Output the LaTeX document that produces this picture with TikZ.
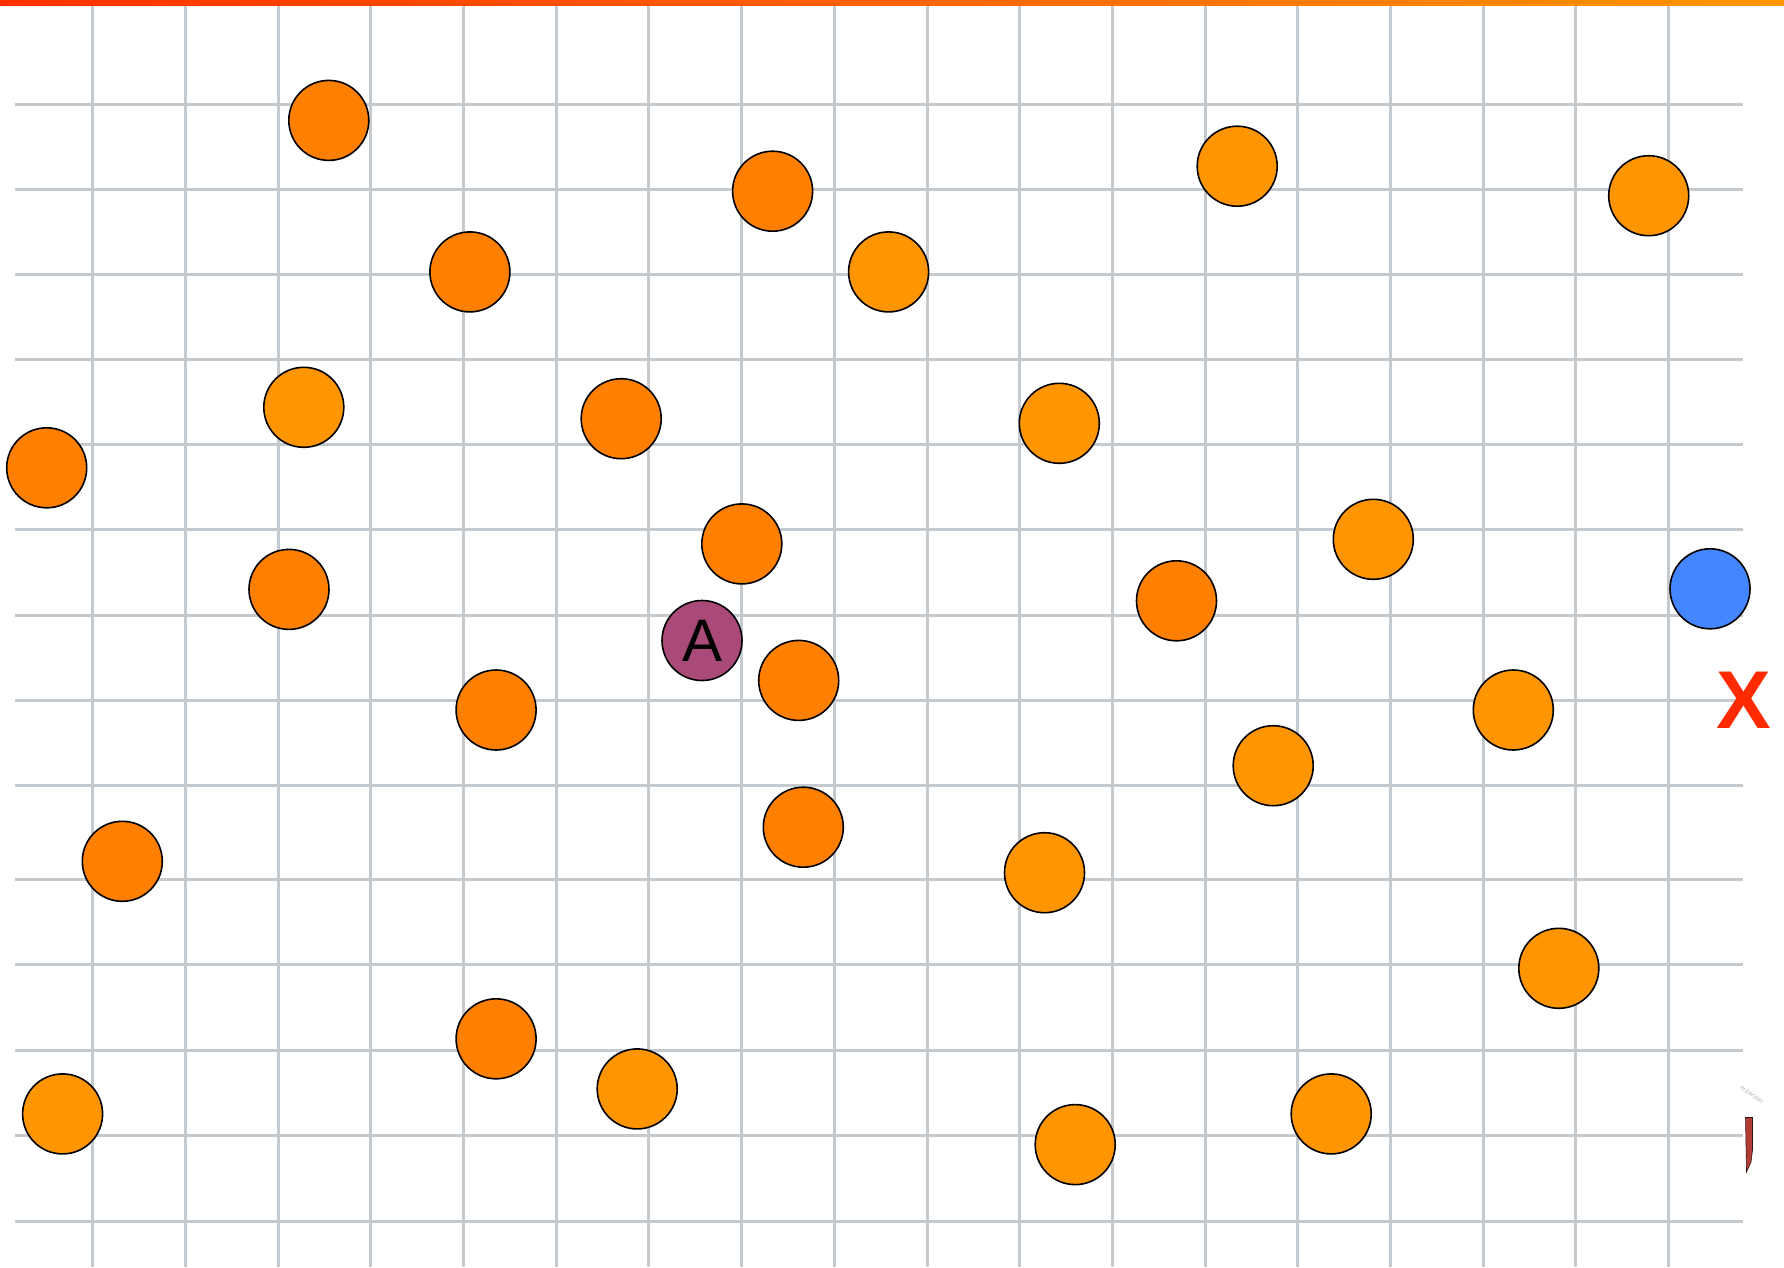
\documentclass[tikz,border=0pt]{standalone}
\usepackage{fontspec}
\newfontfamily\helv{Liberation Sans}
\definecolor{gridc}{RGB}{196,202,206}
\definecolor{orgA}{RGB}{255,128,0}
\definecolor{orgB}{RGB}{255,149,0}
\definecolor{blueC}{RGB}{68,134,255}
\definecolor{plumC}{RGB}{170,74,120}
\definecolor{xred}{RGB}{255,42,0}
\definecolor{barL}{RGB}{255,48,0}
\definecolor{barR}{RGB}{255,150,0}
\definecolor{artred}{RGB}{180,60,55}
\begin{document}
\begin{tikzpicture}[x=1pt,y=-1pt,
  gridline/.style={draw=gridc,line width=3pt},
  dot/.style={circle,draw=black,line width=1.6pt,minimum size=80pt,inner sep=0pt},
  dotA/.style={dot,fill=orgA},
  dotB/.style={dot,fill=orgB}]
\useasboundingbox (0,0) rectangle (1784,1267);
\fill[white] (0,0) rectangle (1784,1267);
% grid
\foreach \k in {1,...,18} {
  \draw[gridline] (92.7*\k,5) -- (92.7*\k,1267);
}
\foreach \yy in {104,189.3,274.6,359.9,444.5,529.8,615,700.2,785,879.3,964.6,1050,1135.5,1221.5} {
  \draw[gridline] (15,\yy) -- (1743,\yy);
}
% top bar
\shade[left color=barL,right color=barR] (0,0) rectangle (1784,5);
% darker orange dots
\node[dotA] (c1) at (328.8,120.4) {};
\node[dotA] (c2) at (772.6,191.2) {};
\node[dotA] (c3) at (469.9,271.9) {};
\node[dotA] (c4) at (621.2,418.7) {};
\node[dotA] (c5) at (46.7,467.8) {};
\node[dotA] (c6) at (741.8,543.9) {};
\node[dotA] (c7) at (289,589.4) {};
\node[dotA] (c8) at (1176.5,600.8) {};
\node[dotA] (c9) at (798.7,680.4) {};
\node[dotA] (c10) at (496.1,710) {};
\node[dotA] (c11) at (803.3,827.2) {};
\node[dotA] (c12) at (122.3,861.3) {};
\node[dotA] (c13) at (496.1,1038.8) {};
% lighter orange dots
\node[dotB] (c14) at (1237.2,166.2) {};
\node[dotB] (c15) at (1648.7,195.7) {};
\node[dotB] (c16) at (888.6,271.9) {};
\node[dotB] (c17) at (303.8,407.3) {};
\node[dotB] (c18) at (1059.3,423.3) {};
\node[dotB] (c19) at (1373.3,539.3) {};
\node[dotB] (c20) at (1513.3,710) {};
\node[dotB] (c21) at (1273.2,765.7) {};
\node[dotB] (c22) at (1044.5,872.7) {};
\node[dotB] (c23) at (1558.8,968.3) {};
\node[dotB] (c24) at (62.6,1113.9) {};
\node[dotB] (c25) at (637.2,1088.9) {};
\node[dotB] (c26) at (1075.2,1144.6) {};
\node[dotB] (c27) at (1331.2,1113.9) {};
% blue dot
\node[dot,fill=blueC] (blue) at (1710,588.8) {};
% A dot
\node[dot,fill=plumC,font=\helv\fontsize{60}{60}\selectfont] (A) at (702,640.5) {A};
% X marker
\node[text=xred,font=\helv\bfseries\fontsize{82}{82}\selectfont,inner sep=0pt] (X) at (1744,700.5) {X};
% small artifact bottom right
\fill[artred,draw=black!70!artred,line width=0.6pt] (1745.5,1117.5) -- (1752.5,1117.5) -- (1752.5,1150) -- (1751,1162) -- (1746.5,1172) -- cycle;
\node[text=gray!70,font=\helv\fontsize{5}{5}\selectfont,rotate=-35,inner sep=0pt] (art) at (1752,1095) {ALERCERT};
\end{tikzpicture}
\end{document}
